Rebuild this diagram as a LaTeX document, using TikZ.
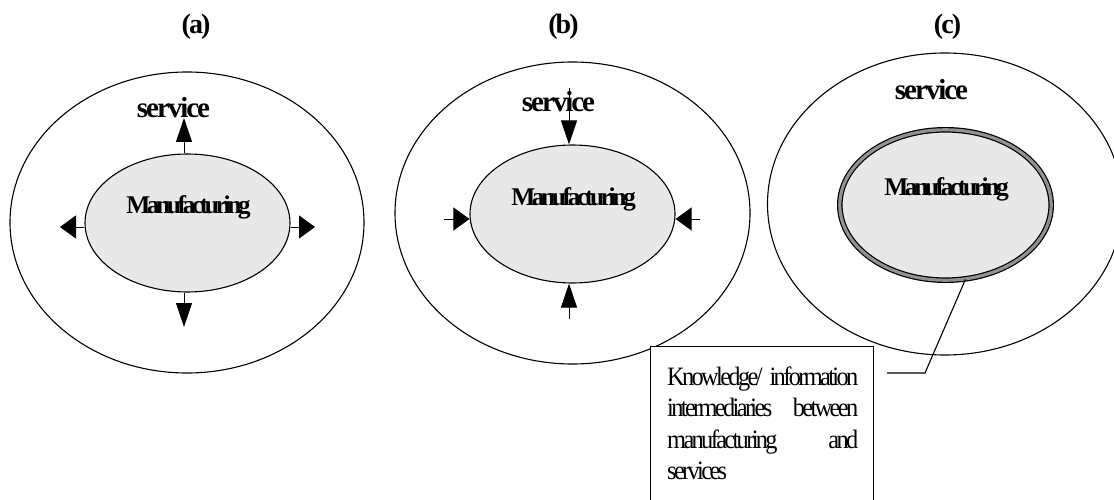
\documentclass[tikz,border=0pt]{standalone}
\usepackage{fontspec}
\setmainfont{Liberation Serif}
% tightly tracked serif faces for the labels
\newfontfamily\headfont[LetterSpace=-6.7]{Liberation Serif}
\newfontfamily\svcfont[LetterSpace=-7]{Liberation Serif}
\newfontfamily\corefont[LetterSpace=-13.5]{Liberation Serif}
\newfontfamily\notefont[FakeStretch=0.92,LetterSpace=-10]{Liberation Serif}
\usetikzlibrary{shapes.geometric,arrows.meta}
\definecolor{corefill}{RGB}{232,232,232}
\definecolor{bandgray}{RGB}{145,145,145}

\begin{document}
\begin{tikzpicture}[x=1pt,y=-1pt,
  outerring/.style={ellipse, draw, line width=1.1pt, inner sep=0pt,
    minimum width=354pt, minimum height=301pt},
  core/.style={ellipse, draw, fill=corefill, line width=1.1pt, inner sep=0pt,
    minimum width=205pt, minimum height=138pt},
  paneltitle/.style={anchor=base, inner sep=0pt,
    font=\headfont\bfseries\fontsize{28}{33}\selectfont},
  svclabel/.style={anchor=base, inner sep=0pt,
    font=\svcfont\bfseries\fontsize{29}{34}\selectfont},
  mlabel/.style={anchor=base, inner sep=0pt,
    font=\corefont\bfseries\fontsize{25.5}{30}\selectfont},
  varrow/.style={line width=1pt, -{Triangle[length=24pt,width=16pt]}},
  harrow/.style={line width=1pt, -{Triangle[length=16pt,width=23pt]}},
  thinline/.style={line width=1.1pt}]

\useasboundingbox (0,0) rectangle (1114,500);
\clip (0,0) rectangle (1114,500);
\fill[white] (0,0) rectangle (1114,500);

% ---------- panel (a): manufacturing pushes outward ----------
\node[paneltitle] (ta) at (196,34) {(a)};
\node[outerring] (sa) at (187,222.5) {};
\node[core] (ma) at (187.5,223) {};
\node[mlabel] (la) at (188.5,213) {Manufacturing};
\node[svclabel] (va) at (173.5,118) {service};
\coordinate (aT) at (184,118);
\coordinate (aB) at (184,327);
\coordinate (aL) at (60,227);
\coordinate (aR) at (315,227);
\draw[varrow] (ma.north -| aT) -- (aT);
\draw[varrow] (ma.south -| aB) -- (aB);
\draw[harrow] (ma.west |- aL) -- (aL);
\draw[harrow] (ma.east |- aR) -- (aR);

% ---------- panel (b): service pushes inward ----------
\node[paneltitle] (tb) at (563.5,34) {(b)};
\node[outerring, minimum width=355pt, minimum height=302pt] (sb) at (572.5,213) {};
\node[core] (mb) at (572.5,214) {};
\node[mlabel] (lb) at (573.5,205) {Manufacturing};
\node[svclabel] (vb) at (558.5,112) {service};
\coordinate (bT) at (569,88);
\coordinate (bB) at (569,319);
\coordinate (bL) at (444,219);
\coordinate (bR) at (700,219);
\draw[varrow] (bT) -- (mb.north -| bT);
\draw[varrow] (bB) -- (mb.south -| bB);
\draw[harrow] (bL) -- (mb.west |- bL);
\draw[harrow] (bR) -- (mb.east |- bR);

% ---------- panel (c): intermediary layer ----------
\node[paneltitle] (tc) at (947.5,34) {(c)};
\node[outerring, minimum width=355pt, minimum height=302pt] (sc) at (945,204) {};
\node[ellipse, draw, fill=corefill, line width=1.2pt, double=bandgray,
  double distance=3.2pt, inner sep=0pt,
  minimum width=211.4pt, minimum height=150.4pt] (mc) at (945.5,205) {};
\node[mlabel] (lc) at (946.5,195) {Manufacturing};
\node[svclabel] (vc) at (931.5,100) {service};

% callout box
\node[draw, fill=white, thinline, anchor=north west, inner sep=0pt,
  minimum width=223pt, minimum height=180pt] (note) at (650,346) {};
\node[anchor=base west, inner sep=0pt] (notetext) at (667,385)
  {\parbox[t]{191pt}{\notefont\fontsize{26.5}{31.5}\selectfont
   Knowledge/\hfill information\\
   intermediaries\hfill between\\
   manufacturing\hfill and\\
   services}};
\coordinate (bend) at (925,373);
\coordinate (lead) at (887,373);
\draw[thinline] (mc.-75) -- (bend) -- (lead);

\end{tikzpicture}
\end{document}
